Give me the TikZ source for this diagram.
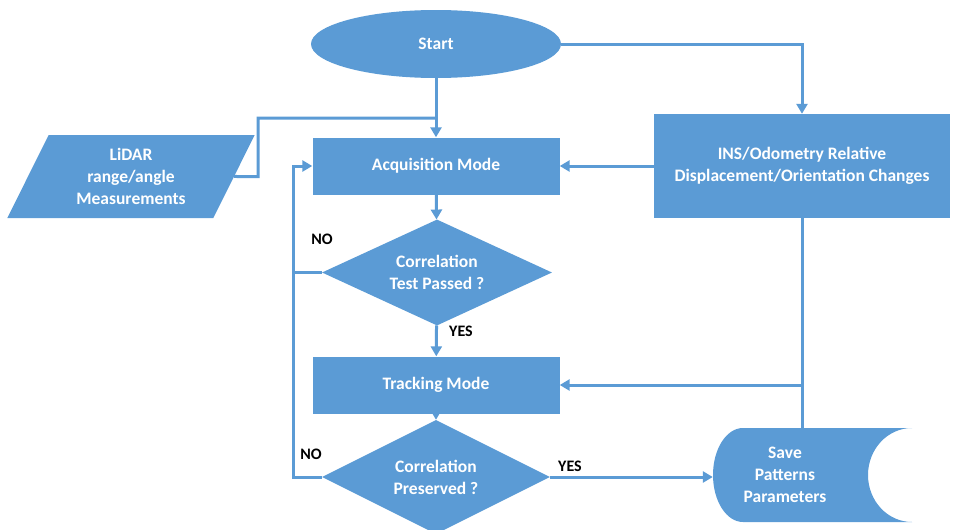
\documentclass[tikz,border=0pt]{standalone}
\usepackage{fontspec}
\setmainfont{Carlito}
\usetikzlibrary{shapes.geometric,arrows.meta}
\definecolor{flowblue}{HTML}{5B9BD5}
\begin{document}
\begin{tikzpicture}
        [x=1pt, y=-1pt,
         node_style/.style={rectangle,fill=flowblue,text=white,align=center,
                            font=\fontsize{17.5}{22}\selectfont\bfseries},
         node_style_start/.style={node_style,ellipse,minimum width=250,minimum height=68},
         node_style_box/.style={node_style,minimum width=247,minimum height=57},
         node_style_data/.style={node_style,trapezium,trapezium left angle=64,
                            trapezium right angle=116,trapezium stretches=true,
                            inner sep=0pt,minimum width=248,minimum height=83},
         node_style_test/.style={node_style,diamond,aspect=2.2,inner sep=0pt,
                            minimum width=230,minimum height=106},
         label_style/.style={font=\fontsize{16}{18}\selectfont\bfseries,text=black},
         edge_style/.style={draw=flowblue,line width=3pt},
         arrow_style/.style={edge_style,-{Triangle[length=10pt,width=11pt]}}]
            \useasboundingbox (0,0) rectangle (953,530);
            \node[node_style_start] (start) at (436, 44)  {Start};
            \node[node_style_data] (lidar) at (131, 176.5)  {LiDAR\\range/angle\\Measurements};
            \node[node_style_box] (acq) at (436, 166)  {Acquisition Mode};
            \node[node_style,minimum width=296,minimum height=104] (ins) at (802, 166)
                {INS/Odometry Relative\\Displacement/Orientation Changes};
            \node[node_style_test] (test1) at (437, 272.5)  {Correlation\\Test Passed ?};
            \node[node_style_box] (trk) at (436, 385)  {Tracking Mode};
            \node[node_style_test,minimum height=114,minimum width=228] (test2) at (436, 477)
                {Correlation\\Preserved ?};
            % save shape (stored data)
            \fill[flowblue] (743,428) -- (912,428)
                .. controls (887.7,428) and (868,449) .. (868,475)
                .. controls (868,501) and (887.7,522) .. (912,522)
                -- (743,522)
                .. controls (726.4,522) and (713,501) .. (713,475)
                .. controls (713,449) and (726.4,428) .. (743,428) -- cycle;
            \node[node_style,fill=none,minimum width=199,minimum height=94] (save) at (812.5, 477) {};
            \node[node_style,fill=none] (savetext) at (785, 475) {Save\\Patterns\\Parameters};
            \coordinate (bus) at (293, 0);
            \coordinate (join) at (436, 118);
            \node[label_style] (no1) at (322, 239) {NO};
            \node[label_style] (yes1) at (461, 331) {YES};
            \node[label_style] (no2) at (311, 454) {NO};
            \node[label_style] (yes2) at (570, 466) {YES};
            \draw[arrow_style]  (start) -- (acq);
            \draw[edge_style]  (lidar.east) -- (258, 176.5) |- (join);
            \draw[arrow_style]  (start.east) -| (ins.north);
            \draw[arrow_style]  (ins.west) -- (acq.east);
            \draw[arrow_style]  (acq) -- (test1);
            \draw[arrow_style]  (test1) -- (trk);
            \draw[arrow_style]  (test1.west) -| (bus |- acq.west) -- (acq.west);
            \draw[edge_style]  (test2.west) -| (bus |- test1.west);
            \draw[edge_style]  (ins.south) -- (ins.south |- save.north);
            \draw[arrow_style]  (ins.south |- trk.east) -- (trk.east);
            \draw[arrow_style]  (trk) -- (test2);
            \draw[arrow_style]  (test2.east) -- (save.west);
        \end{tikzpicture}
\end{document}
